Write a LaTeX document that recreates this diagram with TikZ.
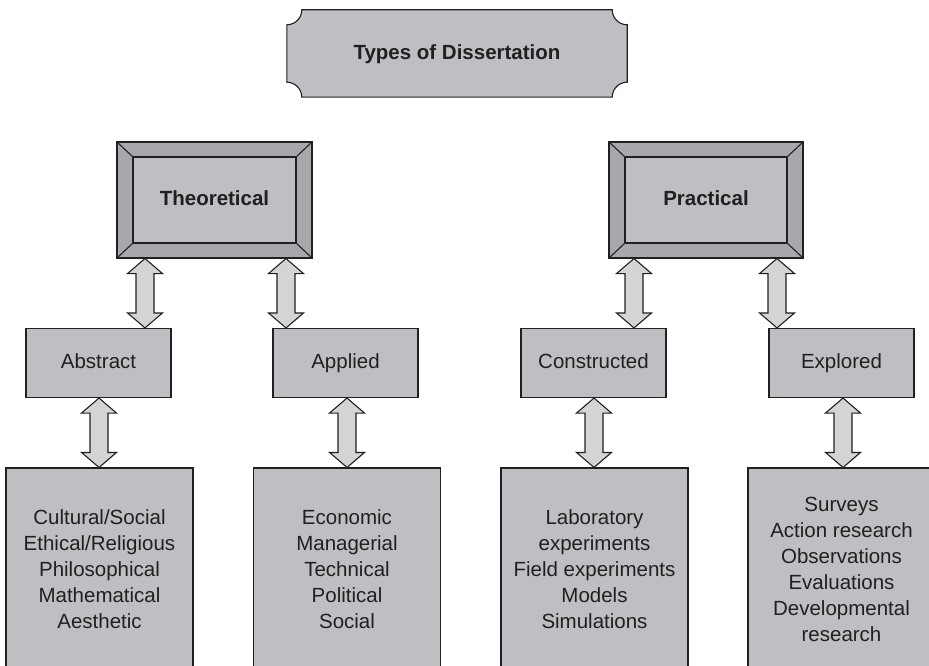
\documentclass[tikz,border=0pt]{standalone}
\usepackage{fontspec}
\setmainfont{Liberation Sans}
\usetikzlibrary{calc,backgrounds}
\definecolor{boxfill}{RGB}{190,191,194}
\definecolor{bevelfill}{RGB}{167,168,171}
\definecolor{arrowfill}{RGB}{211,212,214}
\definecolor{ink}{RGB}{35,31,32}
\newcommand\fatarrow[2]{%
  \draw[fat] (#1) -- ($(#1)+(17.5,15)$) -- ($(#1)+(9,15)$) -- ($(#2)+(9,-15)$)
    -- ($(#2)+(17.5,-15)$) -- (#2) -- ($(#2)+(-17.5,-15)$) -- ($(#2)+(-9,-15)$)
    -- ($(#1)+(-9,15)$) -- ($(#1)+(-17.5,15)$) -- cycle;}
\tikzset{
  txt/.style={font=\fontsize{20.5}{26}\selectfont, text=ink, align=center, inner sep=0pt},
  plainbox/.style={txt, draw=ink, fill=boxfill, line width=1.1pt},
  midbox/.style={plainbox, minimum width=145pt, minimum height=69pt, text height=14.7pt, text depth=3.5pt},
  lowbox/.style={plainbox, minimum width=187pt, minimum height=202pt},
  bevelbox/.style={txt, font=\fontsize{20.5}{26}\selectfont\bfseries, draw=ink, fill=bevelfill, line width=1.1pt,
    minimum width=195pt, minimum height=116pt, text height=14.7pt, text depth=3.5pt,
    path picture={
      \draw[ink, line width=1.1pt, fill=boxfill]
        ([shift={(16,15)}]path picture bounding box.north west) rectangle
        ([shift={(-16,-15)}]path picture bounding box.south east);
      \draw[ink, line width=1.1pt]
        (path picture bounding box.north west) -- ++(16,15)
        (path picture bounding box.north east) -- ++(-16,15)
        (path picture bounding box.south west) -- ++(16,-15)
        (path picture bounding box.south east) -- ++(-16,-15);
    }},
  plaque/.style={draw=ink, fill=boxfill, line width=1.1pt},
  fat/.style={draw=ink, fill=arrowfill, line width=1.1pt, line join=miter},
}
\begin{document}
\begin{tikzpicture}[x=1pt,y=-1pt]
\useasboundingbox (0,0) rectangle (929,666);
\clip (0,0) rectangle (929,666);

% top title
\node[txt, font=\fontsize{20.5}{26}\selectfont\bfseries, minimum width=340pt, minimum height=87pt, text height=14.7pt, text depth=3.5pt] (top) at (457,53.5) {Types of Dissertation};
\begin{scope}[on background layer]
\draw[plaque]
  ([shift={(15,0)}]top.north west) -- ([shift={(-15,0)}]top.north east)
  .. controls ([shift={(-15,8.3)}]top.north east) and ([shift={(-8.3,15)}]top.north east) .. ([shift={(0,15)}]top.north east)
  -- ([shift={(0,-15)}]top.south east)
  .. controls ([shift={(-8.3,-15)}]top.south east) and ([shift={(-15,-8.3)}]top.south east) .. ([shift={(-15,0)}]top.south east)
  -- ([shift={(15,0)}]top.south west)
  .. controls ([shift={(15,-8.3)}]top.south west) and ([shift={(8.3,-15)}]top.south west) .. ([shift={(0,-15)}]top.south west)
  -- ([shift={(0,15)}]top.north west)
  .. controls ([shift={(8.3,15)}]top.north west) and ([shift={(15,8.3)}]top.north west) .. cycle;
\end{scope}

% level 1
\node[bevelbox] (theo) at (214.5,200) {Theoretical};
\node[bevelbox, minimum width=194pt] (prac) at (706,200) {Practical};

% level 2
\node[midbox] (abs) at (98.5,363) {Abstract};
\node[midbox] (app) at (345.5,363) {Applied};
\node[midbox] (con) at (593.5,363) {Constructed};
\node[midbox] (exp) at (841.5,363) {Explored};

% level 3
\node[lowbox] (absL) at (99.5,569) {Cultural/Social\\Ethical/Religious\\Philosophical\\Mathematical\\Aesthetic};
\node[lowbox] (appL) at (347,569) {Economic\\Managerial\\Technical\\Political\\Social};
\node[lowbox] (conL) at (594.5,569) {Laboratory\\experiments\\Field experiments\\Models\\Simulations};
\node[lowbox] (expL) at (841.5,569) {Surveys\\Action research\\Observations\\Evaluations\\Developmental\\research};

% connector end points
\coordinate (a1s) at (145,0 |- theo.south);
\coordinate (a1e) at (145,0 |- abs.north);
\coordinate (a2s) at (286,0 |- theo.south);
\coordinate (a2e) at (286,0 |- app.north);
\coordinate (a3s) at (634,0 |- prac.south);
\coordinate (a3e) at (634,0 |- con.north);
\coordinate (a4s) at (777,0 |- prac.south);
\coordinate (a4e) at (777,0 |- exp.north);
\coordinate (b1s) at (99,0 |- abs.south);
\coordinate (b1e) at (99,0 |- absL.north);
\coordinate (b2s) at (347,0 |- app.south);
\coordinate (b2e) at (347,0 |- appL.north);
\coordinate (b3s) at (594,0 |- con.south);
\coordinate (b3e) at (594,0 |- conL.north);
\coordinate (b4s) at (843,0 |- exp.south);
\coordinate (b4e) at (843,0 |- expL.north);

\fatarrow{a1s}{a1e}
\fatarrow{a2s}{a2e}
\fatarrow{a3s}{a3e}
\fatarrow{a4s}{a4e}
\fatarrow{b1s}{b1e}
\fatarrow{b2s}{b2e}
\fatarrow{b3s}{b3e}
\fatarrow{b4s}{b4e}
\end{tikzpicture}
\end{document}
